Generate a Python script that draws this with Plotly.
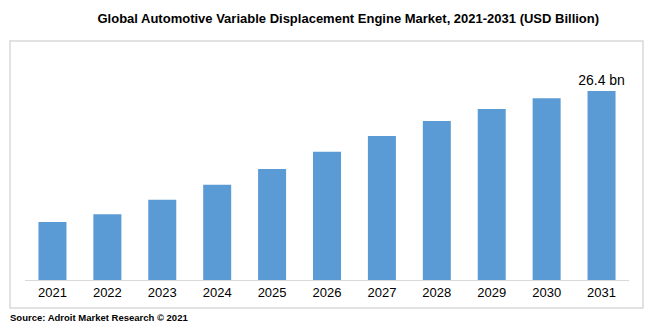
import plotly.graph_objects as go

years = ["2021", "2022", "2023", "2024", "2025", "2026", "2027", "2028", "2029", "2030", "2031"]
values = [8.1, 9.2, 11.2, 13.3, 15.5, 17.9, 20.1, 22.2, 23.9, 25.4, 26.4]
labels = [""] * 10 + ["26.4 bn"]

W, H = 651, 327
mt, mb, ml, mr = 61, 47, 25, 22
plot_h = H - mt - mb
ymax = plot_h * 26.4 / 189

fig = go.Figure(go.Bar(
    x=years, y=values, text=labels, textposition="outside",
    textfont=dict(family="Liberation Sans, Arial", size=14, color="#000000"),
    constraintext="none",
    marker=dict(color="#5b9bd5", line=dict(width=0)),
    width=0.51, cliponaxis=False,
))

fig.update_layout(
    width=W, height=H,
    margin=dict(l=ml, r=mr, t=mt, b=mb),
    paper_bgcolor="white", plot_bgcolor="white",
    showlegend=False,
    xaxis=dict(showline=True, linecolor="#d9d9d9", linewidth=1, ticks="",
               tickfont=dict(family="Liberation Sans, Arial", size=13, color="#000000"),
               showgrid=False, fixedrange=True),
    yaxis=dict(range=[0, ymax], visible=False, showgrid=False, fixedrange=True),
    title=dict(text="<b>Global Automotive Variable Displacement Engine Market, 2021-2031 (USD Billion)</b>",
               x=0.535, xanchor="center", y=1 - 18 / H, yanchor="middle",
               font=dict(family="Liberation Sans, Arial", size=13, color="#000000")),
    shapes=[dict(type="rect", xref="paper", yref="paper",
                 x0=(10 - ml) / (W - ml - mr), x1=(643 - ml) / (W - ml - mr),
                 y0=(H - mb - 308) / plot_h, y1=(H - mb - 41) / plot_h,
                 line=dict(color="#d9d9d9", width=1.5), fillcolor="rgba(0,0,0,0)", layer="below")],
    annotations=[dict(text="<b>Source: Adroit Market Research © 2021</b>", xref="paper", yref="paper",
                      x=(8 - ml) / (W - ml - mr), xanchor="left",
                      y=(H - mb - 317) / plot_h, yanchor="middle", showarrow=False,
                      font=dict(family="Liberation Sans, Arial", size=9.5, color="#000000"))],
)

fig.write_html("out.html")
